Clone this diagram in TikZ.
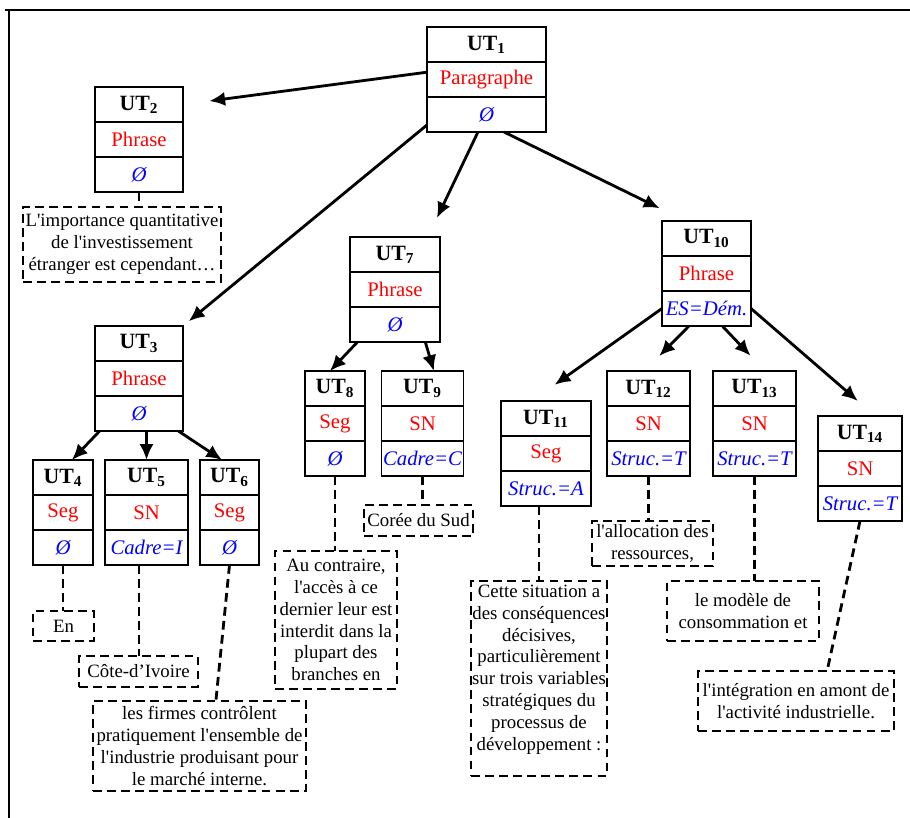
\documentclass[tikz,border=0pt]{standalone}
\usepackage{fontspec}
\setmainfont{Liberation Serif}
\usetikzlibrary{arrows.meta,positioning}
\newcommand{\ap}{\textquotesingle}

\begin{document}
\begin{tikzpicture}[x=0.02cm,y=-0.02cm,
 hd/.style={draw,line width=0.9pt,minimum height=0.7cm,inner sep=0pt,outer sep=0pt,anchor=north,font=\fontsize{12.4}{14}\selectfont\bfseries},
 cat/.style={draw,line width=0.9pt,minimum height=0.7cm,inner sep=0pt,outer sep=0pt,text=red,font=\fontsize{11.8}{14}\selectfont},
 att/.style={draw,line width=0.9pt,minimum height=0.7cm,inner sep=0pt,outer sep=0pt,text=blue,font=\fontsize{11.8}{14}\selectfont\itshape},
 txt/.style={draw,line width=1.6pt,dash pattern=on 5pt off 3pt,inner sep=0pt,outer sep=0pt,align=center,font=\fontsize{10.7}{12.4}\selectfont},
 arr/.style={-{Latex[length=9pt,width=8pt]},line width=1.6pt},
 link/.style={line width=1.6pt,dash pattern=on 5pt off 3pt}]
\useasboundingbox (0,0) rectangle (910,818);
\draw[line width=1.7pt] (5,10) -- (910,10) (9,10) -- (9,818);
% units of the tree
\node[hd,minimum width=2.38cm] (ut1) at (486.5,27) {UT\textsubscript{1}};
\node[cat,minimum width=2.38cm,below=0pt of ut1] (ut1c) {Paragraphe};
\node[att,minimum width=2.38cm,below=0pt of ut1c] (ut1a) {Ø};
\node[hd,minimum width=1.76cm] (ut2) at (139,87) {UT\textsubscript{2}};
\node[cat,minimum width=1.76cm,below=0pt of ut2] (ut2c) {Phrase};
\node[att,minimum width=1.76cm,below=0pt of ut2c] (ut2a) {Ø};
\node[hd,minimum width=1.76cm] (ut3) at (139,326) {UT\textsubscript{3}};
\node[cat,minimum width=1.76cm,below=0pt of ut3] (ut3c) {Phrase};
\node[att,minimum width=1.76cm,below=0pt of ut3c] (ut3a) {Ø};
\node[hd,minimum width=1.2cm] (ut4) at (63,460) {UT\textsubscript{4}};
\node[cat,minimum width=1.2cm,below=0pt of ut4] (ut4c) {Seg};
\node[att,minimum width=1.2cm,below=0pt of ut4c] (ut4a) {Ø};
\node[hd,minimum width=1.66cm] (ut5) at (146.5,460) {UT\textsubscript{5}};
\node[cat,minimum width=1.66cm,below=0pt of ut5] (ut5c) {SN};
\node[att,minimum width=1.66cm,below=0pt of ut5c] (ut5a) {Cadre=I};
\node[hd,minimum width=1.18cm] (ut6) at (229.5,460) {UT\textsubscript{6}};
\node[cat,minimum width=1.18cm,below=0pt of ut6] (ut6c) {Seg};
\node[att,minimum width=1.18cm,below=0pt of ut6c] (ut6a) {Ø};
\node[hd,minimum width=1.8cm] (ut7) at (395,237) {UT\textsubscript{7}};
\node[cat,minimum width=1.8cm,below=0pt of ut7] (ut7c) {Phrase};
\node[att,minimum width=1.8cm,below=0pt of ut7c] (ut7a) {Ø};
\node[hd,minimum width=1.2cm] (ut8) at (335,371) {UT\textsubscript{8}};
\node[cat,minimum width=1.2cm,below=0pt of ut8] (ut8c) {Seg};
\node[att,minimum width=1.2cm,below=0pt of ut8c] (ut8a) {Ø};
\node[hd,minimum width=1.64cm] (ut9) at (422.5,371) {UT\textsubscript{9}};
\node[cat,minimum width=1.64cm,below=0pt of ut9] (ut9c) {SN};
\node[att,minimum width=1.64cm,below=0pt of ut9c] (ut9a) {Cadre=C};
\node[hd,minimum width=1.78cm] (ut10) at (706.5,221) {UT\textsubscript{10}};
\node[cat,minimum width=1.78cm,below=0pt of ut10] (ut10c) {Phrase};
\node[att,minimum width=1.78cm,below=0pt of ut10c] (ut10a) {ES=Dém.};
\node[hd,minimum width=1.8cm] (ut11) at (546,401) {UT\textsubscript{11}};
\node[cat,minimum width=1.8cm,below=0pt of ut11] (ut11c) {Seg};
\node[att,minimum width=1.8cm,below=0pt of ut11c] (ut11a) {Struc.=A};
\node[hd,minimum width=1.66cm] (ut12) at (648.5,371) {UT\textsubscript{12}};
\node[cat,minimum width=1.66cm,below=0pt of ut12] (ut12c) {SN};
\node[att,minimum width=1.66cm,below=0pt of ut12c] (ut12a) {Struc.=T};
\node[hd,minimum width=1.66cm] (ut13) at (754.5,371) {UT\textsubscript{13}};
\node[cat,minimum width=1.66cm,below=0pt of ut13] (ut13c) {SN};
\node[att,minimum width=1.66cm,below=0pt of ut13c] (ut13a) {Struc.=T};
\node[hd,minimum width=1.68cm] (ut14) at (860,416) {UT\textsubscript{14}};
\node[cat,minimum width=1.68cm,below=0pt of ut14] (ut14c) {SN};
\node[att,minimum width=1.68cm,below=0pt of ut14c] (ut14a) {Struc.=T};
% text segments
\node[txt,minimum width=3.96cm,minimum height=1.5cm] (t2) at (122,244.5) {L\ap importance quantitative\\de l\ap investissement\\étranger est cependant…};
\node[txt,minimum width=1.22cm,minimum height=0.6cm] (t4) at (63.5,626) {En};
\node[txt,minimum width=2.38cm,minimum height=0.62cm] (t5) at (138.5,671.5) {Côte-d’Ivoire};
\node[txt,minimum width=4.26cm,minimum height=1.8cm] (t6) at (199.5,746) {les firmes contrôlent\\pratiquement l\ap ensemble de\\l\ap industrie produisant pour\\le marché interne.};
\node[txt,minimum width=2.44cm,minimum height=2.76cm] (t8) at (336,620) {Au contraire,\\l\ap accès à ce\\dernier leur est\\interdit dans la\\plupart des\\branches en};
\node[txt,minimum width=2.18cm,minimum height=0.62cm] (t9) at (418.5,520.5) {Corée du Sud};
\node[txt,minimum width=2.72cm,minimum height=3.9cm] (t11) at (539,678.5) {Cette situation a\\des conséquences\\décisives,\\particulièrement\\sur trois variables\\stratégiques du\\processus de\\développement :\\\mbox{}};
\node[txt,minimum width=2.42cm,minimum height=0.9cm] (t12) at (652.5,543.5) {l\ap allocation des\\ressources,};
\node[txt,minimum width=3.04cm,minimum height=1.2cm] (t13) at (743,611) {le modèle de\\consommation et};
\node[txt,minimum width=3.92cm,minimum height=1.2cm] (t14) at (796,701) {l\ap intégration en amont de\\l\ap activité industrielle.};
% arrows
\draw[arr,shorten >=0.53cm] (ut1c.173) -- (ut2.east);
\draw[arr,shorten >=0.15cm] (ut1a.-170) -- (ut3.north east);
\draw[arr,shorten >=0.42cm] (ut1a.-116) -- (ut7.28);
\draw[arr,shorten >=0.58cm] (ut1a.-45) -- (ut10.140);
\draw[arr] (ut3a.204) -- (ut4.63);
\draw[arr] (ut5.north |- ut3a.south) -- (ut5.north);
\draw[arr] (ut3a.-24) -- (ut6.113);
\draw[arr] (ut7a.205) -- (ut8.106);
\draw[arr] (ut7a.-30) -- (ut9.57);
\draw[arr,shorten >=0.56cm] (ut10a.west) -- (ut11.129);
\draw[arr,shorten >=0.42cm] (ut10a.-135) -- (ut12.103);
\draw[arr,shorten >=0.42cm] (ut10a.-48) -- (ut13.59);
\draw[arr,shorten >=0.46cm] (ut10a.east) -- (ut14.49);
% dashed links
\draw[link] (ut2a.south) -- (ut2a.south |- t2.north);
\draw[link] (ut4a.south) -- (ut4a.south |- t4.north);
\draw[link] (ut5a.-113) -- (ut5a.-113 |- t5.north);
\draw[link] (ut6a.south) -- (t6.70);
\draw[link] (ut8a.south) -- (ut8a.south |- t8.north);
\draw[link] (ut9a.south) -- (ut9a.south |- t9.north);
\draw[link] (t11.north |- ut11a.south) -- (t11.north);
\draw[link] (ut12a.south) -- (ut12a.south |- t12.north);
\draw[link] (ut13a.south) -- (ut13a.south |- t13.north);
\draw[link] (ut14a.south) -- (t14.44);
\end{tikzpicture}
\end{document}
